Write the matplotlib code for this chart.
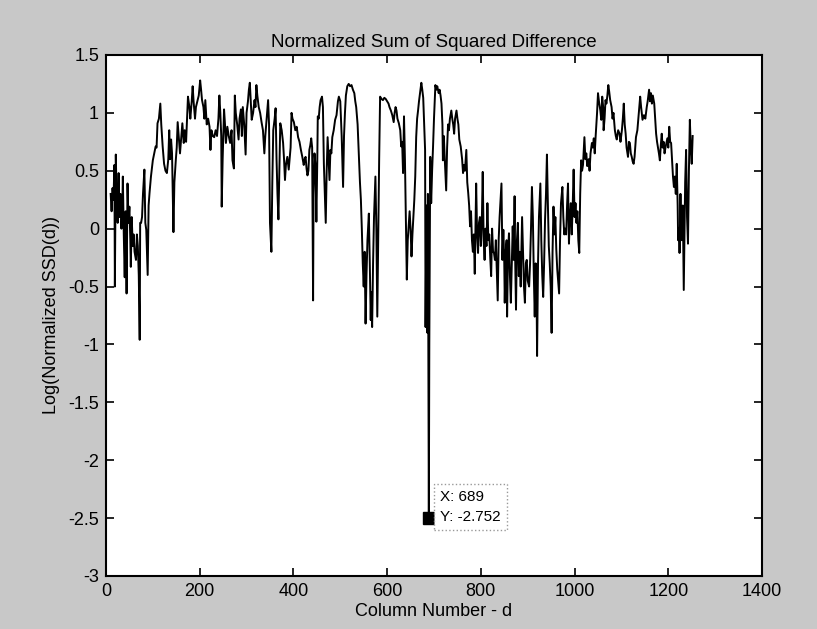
import numpy as np
import matplotlib
matplotlib.use("Agg")
import matplotlib.pyplot as plt

plt.rcParams['font.family'] = ['Liberation Sans', 'DejaVu Sans']

cols = [10,12,14,16,18,19,21,23,25,27,29,31,33,35,36,38,40,42,44,46,48,50,52,53,55,57,59,61,64,66,68,70,72,73,75,77,79,82,84,86,89,91,93,96,100,103,106,108,110,113,116,118,121,124,127,130,133,135,137,139,141,144,146,149,151,153,156,158,161,163,166,168,171,173,175,178,180,183,185,187,190,192,195,198,201,203,205,208,210,
        212,215,218,221,223,225,228,231,234,237,240,242,244,246,247,249,252,254,256,259,262,265,268,270,273,275,277,280,283,285,288,290,292,295,298,300,303,305,307,309,311,314,317,319,321,323,326,329,332,335,338,340,343,346,348,350,353,355,357,360,362,364,366,368,370,372,375,378,380,382,384,387,390,392,394,396,398,401,404,407,410,413,416,419,422,
        424,426,428,430,432,434,436,438,440,442,443,445,447,449,451,452,454,456,458,461,463,465,467,469,471,473,475,477,479,481,483,486,489,492,495,497,500,503,506,508,510,512,515,518,521,524,527,530,532,534,537,540,542,544,546,548,550,552,554,556,558,561,563,565,566,568,570,572,575,577,579,581,583,585,588,591,594,597,600,603,605,608,611,614,616,618,620,622,625,628,630,632,634,
        636,638,640,642,644,646,648,650,652,654,656,658,660,662,664,666,668,671,673,675,677,679,681,682,684,686,687,689,690,692,694,696,698,700,703,705,707,710,712,714,716,718,719,721,723,726,728,730,732,734,737,739,741,743,745,748,750,752,754,757,760,762,764,766,769,771,773,775,777,779,781,783,785,787,789,790,792,794,796,798,800,802,804,806,808,810,812,814,816,818,820,822,824,826,828,830,832,834,836,838,840,842,844,846,
        848,850,851,853,855,856,858,860,862,864,866,868,870,872,873,875,877,879,881,883,885,888,890,892,894,896,898,900,903,905,907,909,911,913,915,917,919,920,922,924,927,929,931,933,935,937,939,941,943,945,947,949,951,953,955,957,959,961,963,965,967,969,971,974,976,978,980,982,984,986,988,990,992,994,996,998,1000,1002,1004,1006,1008,1010,1012,1014,1016,1018,1021,1023,1025,1027,1030,1032,1034,1037,1039,1041,1043,1045,1048,1050,1052,1055,1057,
        1059,1061,1062,1064,1066,1068,1070,1072,1074,1076,1079,1081,1083,1086,1088,1090,1093,1096,1098,1101,1103,1105,1107,1109,1111,1114,1116,1118,1120,1122,1124,1126,1128,1131,1134,1137,1140,1142,1145,1148,1151,1154,1156,1159,1161,1163,1165,1167,1170,1172,1174,1176,1178,1180,1182,1184,1186,1188,1190,1192,1194,1196,1198,1200,1202,1204,1206,1208,1210,1212,1214,1216,1218,1220,1221,1223,1224,1226,1227,1229,1231,1233,1235,1236,1238,1240,1242,1244,1246,1248,1250,1252]

log_ssd = [0.30,0.15,0.35,0.25,0.55,-0.50,0.64,0.20,0.05,0.48,0.10,0.30,0.00,0.20,0.45,-0.05,-0.42,0.15,-0.56,0.39,0.05,0.19,-0.10,-0.33,0.10,-0.15,-0.05,-0.20,-0.27,-0.05,-0.15,-0.40,-0.96,0.05,0.05,0.10,0.30,0.51,0.05,-0.01,-0.40,0.20,0.31,0.45,0.59,0.65,0.71,0.70,0.91,0.95,1.08,0.90,0.71,0.56,0.50,0.48,0.60,0.85,0.60,0.77,0.65,-0.03,0.40,0.59,0.70,0.92,0.75,0.65,0.80,0.91,0.74,0.85,0.75,0.95,1.14,1.05,0.95,1.10,1.23,1.10,0.95,1.05,1.10,1.15,1.28,1.20,1.11,1.05,0.95,
           1.11,0.90,0.95,0.88,0.68,0.85,0.80,0.79,0.85,0.80,0.95,1.15,1.00,0.80,0.19,0.60,1.03,0.90,0.74,0.88,0.80,0.74,0.85,0.59,0.52,1.15,1.00,0.90,0.77,0.95,1.03,0.80,1.05,0.90,0.64,1.00,1.10,1.20,1.26,1.10,0.94,1.00,1.11,1.05,1.24,1.15,1.05,1.00,0.92,0.85,0.65,0.80,0.95,1.11,0.90,0.05,-0.20,0.40,0.85,0.95,1.04,0.60,0.30,0.08,0.50,0.91,0.85,0.74,0.60,0.42,0.55,0.62,0.51,0.60,0.70,1.00,0.95,0.92,0.85,0.88,0.79,0.75,0.68,0.62,0.55,
           0.60,0.62,0.52,0.46,0.50,0.68,0.72,0.78,0.70,-0.62,0.30,0.65,0.55,0.06,0.60,0.97,0.95,1.05,1.11,1.14,1.05,0.56,0.30,0.05,0.50,0.79,0.60,0.42,0.68,0.65,0.79,0.85,0.94,0.98,1.10,1.14,1.10,0.80,0.36,0.80,1.00,1.15,1.23,1.25,1.23,1.24,1.20,1.17,1.10,1.05,0.90,0.60,0.40,0.25,0.00,-0.30,-0.50,-0.20,-0.82,-0.40,-0.10,0.13,-0.30,-0.79,-0.55,-0.85,-0.30,0.10,0.45,0.00,-0.76,-0.10,0.60,1.14,1.12,1.11,1.13,1.12,1.10,1.08,1.05,1.02,0.98,0.92,1.00,1.05,1.02,0.95,0.91,0.85,0.71,0.75,0.48,
           0.97,0.60,0.10,-0.44,-0.10,0.02,0.15,0.00,-0.24,-0.05,0.10,0.25,0.45,0.79,0.95,1.02,1.10,1.20,1.26,1.20,1.13,0.90,0.68,-0.85,0.20,-0.90,0.30,-2.50,-1.00,0.62,0.22,0.50,0.71,0.95,1.24,1.20,1.23,1.17,1.20,1.15,1.08,0.90,0.59,0.80,0.60,0.33,0.70,0.90,0.85,0.95,1.02,0.95,0.90,0.82,0.95,1.02,0.95,0.90,0.77,0.71,0.60,0.48,0.55,0.50,0.68,0.40,0.31,0.20,0.02,0.15,-0.10,-0.20,-0.05,-0.39,0.10,0.39,-0.05,-0.21,0.05,0.10,-0.15,0.05,0.49,-0.10,-0.27,0.00,-0.15,0.22,-0.10,-0.05,-0.25,-0.41,0.00,-0.20,-0.21,-0.27,-0.10,-0.35,-0.62,-0.10,0.10,0.25,0.39,-0.27,
           -0.01,-0.30,-0.64,-0.20,-0.10,-0.76,-0.20,-0.04,-0.40,-0.64,-0.30,0.02,-0.27,0.28,-0.20,-0.70,-0.10,0.05,-0.41,-0.20,-0.50,0.10,-0.21,-0.50,-0.64,-0.30,-0.27,-0.45,-0.50,-0.30,0.00,0.36,0.10,-0.40,-0.76,-0.30,-0.60,-1.10,-0.30,0.10,0.39,-0.10,-0.40,-0.59,-0.30,0.08,0.30,0.64,0.22,-0.15,-0.30,-0.50,-0.90,-0.20,0.19,-0.05,0.10,-0.18,-0.35,-0.45,-0.56,-0.10,0.22,0.36,0.10,-0.05,0.00,-0.05,0.20,0.39,-0.13,0.10,0.22,-0.05,0.20,0.51,0.10,0.22,0.05,0.15,-0.10,-0.21,0.30,0.59,0.50,0.55,0.79,0.60,0.65,0.54,0.60,0.50,0.65,0.74,0.70,0.78,0.65,0.80,1.00,1.17,1.10,1.02,0.94,
           1.14,1.05,0.85,0.95,1.11,1.08,1.15,1.24,1.18,1.11,1.05,0.95,1.00,0.85,0.80,0.77,0.85,0.82,0.75,0.85,0.95,1.08,0.90,0.82,0.70,0.62,0.75,0.74,0.65,0.62,0.58,0.56,0.62,0.79,0.85,1.00,1.14,1.05,0.94,0.98,0.95,1.05,1.10,1.20,1.10,1.17,1.08,1.15,1.08,0.95,0.82,0.75,0.70,0.65,0.59,0.72,0.82,0.70,0.75,0.65,0.70,0.74,0.78,0.70,0.88,0.75,0.74,0.60,0.45,0.36,0.45,0.30,0.56,0.20,-0.10,0.00,-0.21,0.30,0.05,-0.10,0.20,-0.53,0.10,0.40,0.68,0.10,-0.13,0.50,0.94,0.70,0.56,0.80]

tip_x = 689
tip_y = -2.50
tip_label = "X: 689\nY: -2.752"
xticks = [0, 200, 400, 600, 800, 1000, 1200, 1400]
yticks = [-3, -2.5, -2, -1.5, -1, -0.5, 0, 0.5, 1, 1.5]
ytick_labels = ['-3', '-2.5', '-2', '-1.5', '-1', '-0.5', '0', '0.5', '1', '1.5']

bg = '#c8c8c8'
fig = plt.figure(figsize=(8.17, 6.29), dpi=100, facecolor=bg)
ax = fig.add_axes([0.1297, 0.0843, 0.8030, 0.8283])
ax.set_facecolor('white')
ax.plot(cols, log_ssd, color='black', linewidth=1.4)
ax.plot([tip_x], [tip_y], marker='s', markersize=8, color='black', linestyle='none')
ax.annotate(tip_label, xy=(tip_x, tip_y), xytext=(8, -4), textcoords='offset points',
            ha='left', va='bottom', fontsize=11, linespacing=1.5,
            bbox=dict(boxstyle='square,pad=0.4', facecolor='white', edgecolor='#999999', linestyle=':', linewidth=1))
ax.set_xlim(0, 1400)
ax.set_ylim(-3, 1.5)
ax.set_xticks(xticks)
ax.set_yticks(yticks)
ax.set_yticklabels(ytick_labels)
ax.tick_params(direction='in', length=6, width=1.2, labelsize=13, top=True, right=True, pad=5)
for s in ax.spines.values():
    s.set_linewidth(1.5)
ax.set_title('Normalized Sum of Squared Difference', fontsize=13.5, pad=6)
ax.set_xlabel('Column Number - d', fontsize=13, labelpad=2)
ax.set_ylabel('Log(Normalized SSD(d))', fontsize=13, labelpad=6)
fig.savefig('out.png', dpi=100, facecolor=bg)
